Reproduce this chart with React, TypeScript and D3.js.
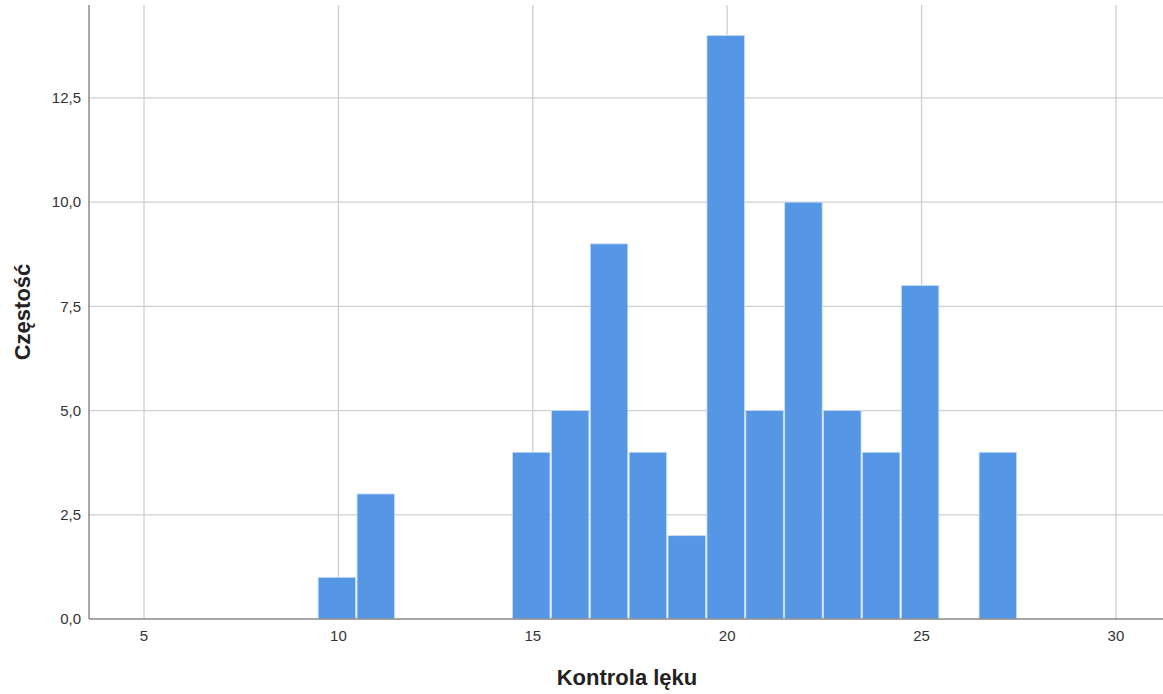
import React from "react";
import * as d3 from "d3";

const binCenters = [10, 11, 15, 16, 17, 18, 19, 20, 21, 22, 23, 24, 25, 27];
const counts = [1, 3, 4, 5, 9, 4, 2, 14, 5, 10, 5, 4, 8, 4];
const xTicks = [5, 10, 15, 20, 25, 30];
const yTicks = [0, 2.5, 5, 7.5, 10, 12.5];
const xTitle = "Kontrola lęku";
const yTitle = "Częstość";

const W = 1163;
const H = 694;
const left = 89;
const right = 1163;
const top = 5;
const bottom = 619;

export default function App() {
  const x = d3.scaleLinear().domain([3.585, 31.21]).range([left, right]);
  const y = d3.scaleLinear().domain([0, 14.73]).range([bottom, top]);
  const fmt = (v: number) => v.toFixed(1).replace(".", ",");
  const font = "'Liberation Sans', Arial, sans-serif";
  return (
    <svg width={W} height={H} style={{ position: "absolute", left: 0, top: 0, background: "#fff" }} fontFamily={font}>
      {xTicks.map((t) => (
        <line key={"gx" + t} x1={x(t)} x2={x(t)} y1={top} y2={bottom} stroke="#cfcfcf" strokeWidth={1.3} />
      ))}
      {yTicks.filter((t) => t > 0).map((t) => (
        <line key={"gy" + t} x1={left} x2={right} y1={y(t)} y2={y(t)} stroke="#cfcfcf" strokeWidth={1.3} />
      ))}
      {binCenters.map((c, i) => (
        <rect
          key={"b" + c}
          x={x(c - 0.5) - 0.8}
          y={y(counts[i])}
          width={x(c + 0.5) - x(c - 0.5) - 1.4}
          height={y(0) - y(counts[i])}
          fill="#5596e5"
          stroke="#c9ddf7"
          strokeWidth={0.8}
        />
      ))}
      <line x1={left} x2={left} y1={top} y2={bottom} stroke="#8a8a8a" strokeWidth={1.5} />
      <line x1={left} x2={right} y1={bottom} y2={bottom} stroke="#8a8a8a" strokeWidth={1.5} />
      {yTicks.map((t) => (
        <text key={"ty" + t} x={81} y={y(t)} dy="0.35em" textAnchor="end" fontSize={15} fill="#333">
          {fmt(t)}
        </text>
      ))}
      {xTicks.map((t) => (
        <text key={"tx" + t} x={x(t)} y={636} dy="0.35em" textAnchor="middle" fontSize={15} fill="#333">
          {t}
        </text>
      ))}
      <text x={627} y={685} textAnchor="middle" fontSize={22} fontWeight="bold" fill="#222">
        {xTitle}
      </text>
      <text
        transform={`translate(30, ${(top + bottom) / 2 + 0}) rotate(-90)`}
        textAnchor="middle"
        fontSize={22}
        fontWeight="bold"
        fill="#222"
      >
        {yTitle}
      </text>
    </svg>
  );
}
